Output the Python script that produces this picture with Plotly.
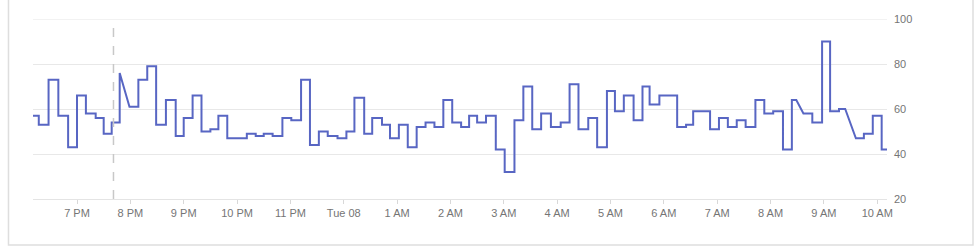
import plotly.graph_objects as go
from datetime import datetime, timedelta

# Level periods (start time, end time, value)
level_start = ["18:10:30", "18:17", "18:28", "18:39", "18:50", "19:00", "19:10", "19:21", "19:30", "19:39",
               "19:48", "19:59", "20:09", "20:19", "20:29", "20:40", "20:51", "21:00", "21:10", "21:20",
               "21:30", "21:39", "21:49", "22:11", "22:21", "22:30", "22:40", "22:51", "23:01", "23:12",
               "23:22", "23:32", "23:42", "23:53", "00:03", "00:12", "00:23", "00:32", "00:43", "00:52",
               "01:02", "01:12", "01:22", "01:32", "01:42", "01:52", "02:02", "02:12", "02:21", "02:30",
               "02:40", "02:51", "03:01", "03:12", "03:22", "03:32", "03:42", "03:53", "04:04", "04:14",
               "04:24", "04:35", "04:45", "04:56", "05:05", "05:15", "05:26", "05:36", "05:44", "05:55",
               "06:15", "06:25", "06:33", "06:52", "07:02", "07:12", "07:22", "07:32", "07:43", "07:53",
               "08:03", "08:14", "08:24", "08:37", "08:47", "08:58", "09:07", "09:17", "09:36", "09:45",
               "09:55", "10:05"]
level_end = ["18:17", "18:28", "18:39", "18:50", "19:00", "19:10", "19:21", "19:30", "19:39", "19:48",
             "19:48", "20:09", "20:19", "20:29", "20:40", "20:51", "21:00", "21:10", "21:20", "21:30",
             "21:39", "21:49", "22:11", "22:21", "22:30", "22:40", "22:51", "23:01", "23:12", "23:22",
             "23:32", "23:42", "23:53", "00:03", "00:12", "00:23", "00:32", "00:43", "00:52", "01:02",
             "01:12", "01:22", "01:32", "01:42", "01:52", "02:02", "02:12", "02:21", "02:30", "02:40",
             "02:51", "03:01", "03:12", "03:22", "03:32", "03:42", "03:53", "04:04", "04:14", "04:24",
             "04:35", "04:45", "04:56", "05:05", "05:15", "05:26", "05:36", "05:44", "05:55", "06:15",
             "06:25", "06:33", "06:52", "07:02", "07:12", "07:22", "07:32", "07:43", "07:53", "08:03",
             "08:14", "08:24", "08:29", "08:47", "08:58", "09:07", "09:17", "09:24", "09:45", "09:55",
             "10:05", "10:11"]
level_value = [57, 53, 73, 57, 43, 66, 58, 56, 49, 54,
               76, 61, 73, 79, 53, 64, 48, 56, 66, 50,
               51, 57, 47, 49, 48, 49, 48, 56, 55, 73,
               44, 50, 48, 47, 50, 65, 49, 56, 53, 47,
               53, 43, 52, 54, 52, 64, 54, 52, 57, 54,
               57, 42, 32, 55, 70, 51, 58, 52, 54, 71,
               51, 56, 43, 68, 59, 66, 55, 70, 62, 66,
               52, 53, 59, 51, 56, 52, 55, 52, 64, 58,
               59, 42, 64, 58, 54, 90, 59, 60, 47, 49,
               57, 42]

tick_hours = ["19:00", "20:00", "21:00", "22:00", "23:00", "00:00", "01:00", "02:00",
              "03:00", "04:00", "05:00", "06:00", "07:00", "08:00", "09:00", "10:00"]
tick_text = ["7 PM", "8 PM", "9 PM", "10 PM", "11 PM", "Tue 08", "1 AM", "2 AM",
             "3 AM", "4 AM", "5 AM", "6 AM", "7 AM", "8 AM", "9 AM", "10 AM"]
y_ticks = [20, 40, 60, 80, 100]
hover_time = "19:41"
range_start, range_end = "18:10:30", "10:11"


def to_dt(s):
    parts = [int(p) for p in s.split(":")]
    while len(parts) < 3:
        parts.append(0)
    day = datetime(2024, 10, 7) if parts[0] >= 12 else datetime(2024, 10, 8)
    return day + timedelta(hours=parts[0], minutes=parts[1], seconds=parts[2])


xs, ys = [], []
for s, e, v in zip(level_start, level_end, level_value):
    xs += [to_dt(s), to_dt(e)]
    ys += [v, v]

fig = go.Figure()
fig.add_trace(go.Scatter(x=xs, y=ys, mode="lines",
                         line=dict(color="#5866c3", width=2), hoverinfo="skip"))

# top gridline (at the edge of the y range)
fig.add_shape(type="line", xref="paper", yref="y", x0=0, x1=1, y0=y_ticks[-1], y1=y_ticks[-1],
              line=dict(color="#e6e6e6", width=1), layer="below")
fig.add_shape(type="line", xref="x", yref="paper", x0=to_dt(hover_time), x1=to_dt(hover_time),
              y0=0, y1=1, line=dict(color="#c8c8c8", width=1.5, dash="dash"))
# card frame
fig.add_shape(type="rect", xref="paper", yref="paper", x0=-0.0287, x1=1.1007, y0=-0.2556, y1=1.3,
              line=dict(color="#dedede", width=1.5), layer="below")

fig.update_layout(
    width=976, height=248,
    margin=dict(l=33, r=89, t=19, b=49),
    paper_bgcolor="white", plot_bgcolor="white",
    showlegend=False,
    font=dict(family="Liberation Sans, Arial, sans-serif", size=11, color="#757575"),
    xaxis=dict(type="date", range=[to_dt(range_start), to_dt(range_end)],
               tickvals=[to_dt(t) for t in tick_hours], ticktext=tick_text,
               showgrid=False, showline=True, linecolor="#e4e4e4", linewidth=1,
               ticks="outside", ticklen=4, tickcolor="#d8d8d8", tickfont=dict(size=11, color="#757575")),
    yaxis=dict(range=[20, 100], tickvals=y_ticks, side="right",
               showgrid=True, gridcolor="#e8e8e8", gridwidth=1, zeroline=False,
               showline=False, ticks="", ticklabelstandoff=6,
               tickfont=dict(size=11, color="#757575")),
)

fig.write_html("out.html")
